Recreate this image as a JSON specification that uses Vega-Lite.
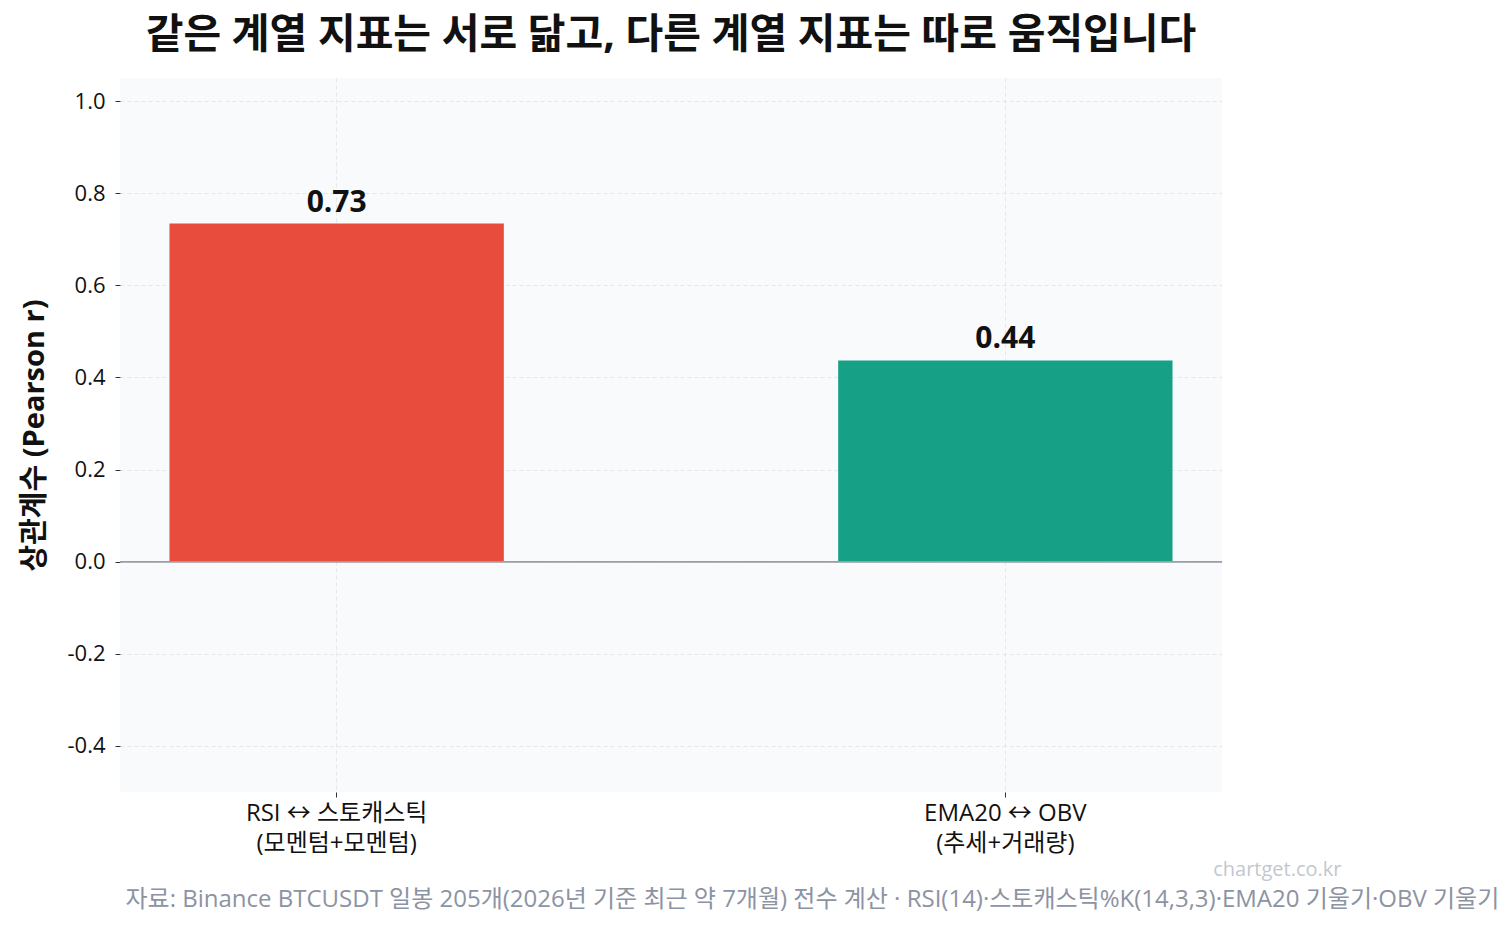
{
  "$schema": "https://vega.github.io/schema/vega-lite/v6.json",
  "autosize": "none",
  "width": 1102,
  "height": 714,
  "padding": {"left": 120, "top": 78, "right": 290, "bottom": 135},
  "background": "#ffffff",
  "config": {
    "font": "Open Sans, Noto Sans CJK KR",
    "view": {"fill": "#f9fafc", "stroke": null},
    "axis": {"domain": false, "gridDash": [4, 3], "gridColor": "#d5d8dc", "gridOpacity": 0.55, "tickColor": "#333333", "tickSize": 5, "labelColor": "#111111", "labelFont": "Open Sans, Noto Sans CJK KR", "titleFont": "Open Sans, Noto Sans CJK KR", "zindex": 1}
  },
  "title": {
    "text": "같은 계열 지표는 서로 닮고, 다른 계열 지표는 따로 움직입니다",
    "font": "Open Sans, Noto Sans CJK KR",
    "fontSize": 41,
    "fontWeight": "bold",
    "color": "#111111",
    "anchor": "middle",
    "offset": 21
  },
  "data": {
    "values": [
      {"pair": "RSI ↔ 스토캐스틱\n(모멘텀+모멘텀)", "r": 0.734, "group": "same"},
      {"pair": "EMA20 ↔ OBV\n(추세+거래량)", "r": 0.437, "group": "diff"}
    ]
  },
  "encoding": {
    "x": {
      "field": "pair",
      "type": "nominal",
      "sort": null,
      "scale": {"paddingInner": 0.5, "paddingOuter": 0.074},
      "axis": {
        "grid": true,
        "bandPosition": 0.5,
        "labelAngle": 0,
        "labelFontSize": 24,
        "labelLineHeight": 30,
        "labelLimit": 500,
        "labelPadding": 4,
        "labelExpr": "split(datum.label, '\\n')",
        "title": "자료: Binance BTCUSDT 일봉 205개(2026년 기준 최근 약 7개월) 전수 계산 · RSI(14)·스토캐스틱%K(14,3,3)·EMA20 기울기·OBV 기울기",
        "titleFontSize": 24,
        "titleFontWeight": "normal",
        "titleColor": "#8c93a3",
        "titleAnchor": "start",
        "titleAlign": "left",
        "titleBaseline": "middle",
        "titleLimit": 1400,
        "titleX": 5,
        "titleY": 107
      }
    }
  },
  "layer": [
    {
      "mark": {"type": "bar"},
      "encoding": {
        "y": {
          "field": "r",
          "type": "quantitative",
          "scale": {"domain": [-0.5, 1.05], "nice": false, "zero": false},
          "axis": {
            "values": [-0.4, -0.2, 0, 0.2, 0.4, 0.6, 0.8, 1.0],
            "labelExpr": "replace(format(datum.value, '.1f'), '−', '-')",
            "labelFontSize": 22,
            "labelPadding": 10,
            "title": "상관계수 (Pearson r)",
            "titleFontSize": 29,
            "titleFontWeight": "bold",
            "titleColor": "#111111",
            "titlePadding": 17
          }
        },
        "color": {
          "field": "group",
          "type": "nominal",
          "scale": {"domain": ["same", "diff"], "range": ["#e74c3c", "#16a085"]},
          "legend": null
        }
      }
    },
    {
      "mark": {"type": "text", "baseline": "bottom", "dy": -6, "fontSize": 30, "fontWeight": "bold", "color": "#111111"},
      "encoding": {
        "y": {"field": "r", "type": "quantitative"},
        "text": {"field": "r", "type": "quantitative", "format": ".2f"}
      }
    },
    {
      "mark": {"type": "rule", "color": "#9c9ea6", "strokeWidth": 1.6},
      "encoding": {"x": null, "y": {"datum": 0}}
    },
    {
      "data": {"values": [{"site": "chartget.co.kr", "pair": "EMA20 ↔ OBV\n(추세+거래량)"}]},
      "mark": {"type": "text", "fontSize": 20, "color": "#c3c7cf", "dx": 272, "baseline": "middle"},
      "encoding": {
        "y": {"datum": -0.5},
        "yOffset": {"value": 78},
        "text": {"field": "site", "type": "nominal"}
      }
    }
  ]
}
